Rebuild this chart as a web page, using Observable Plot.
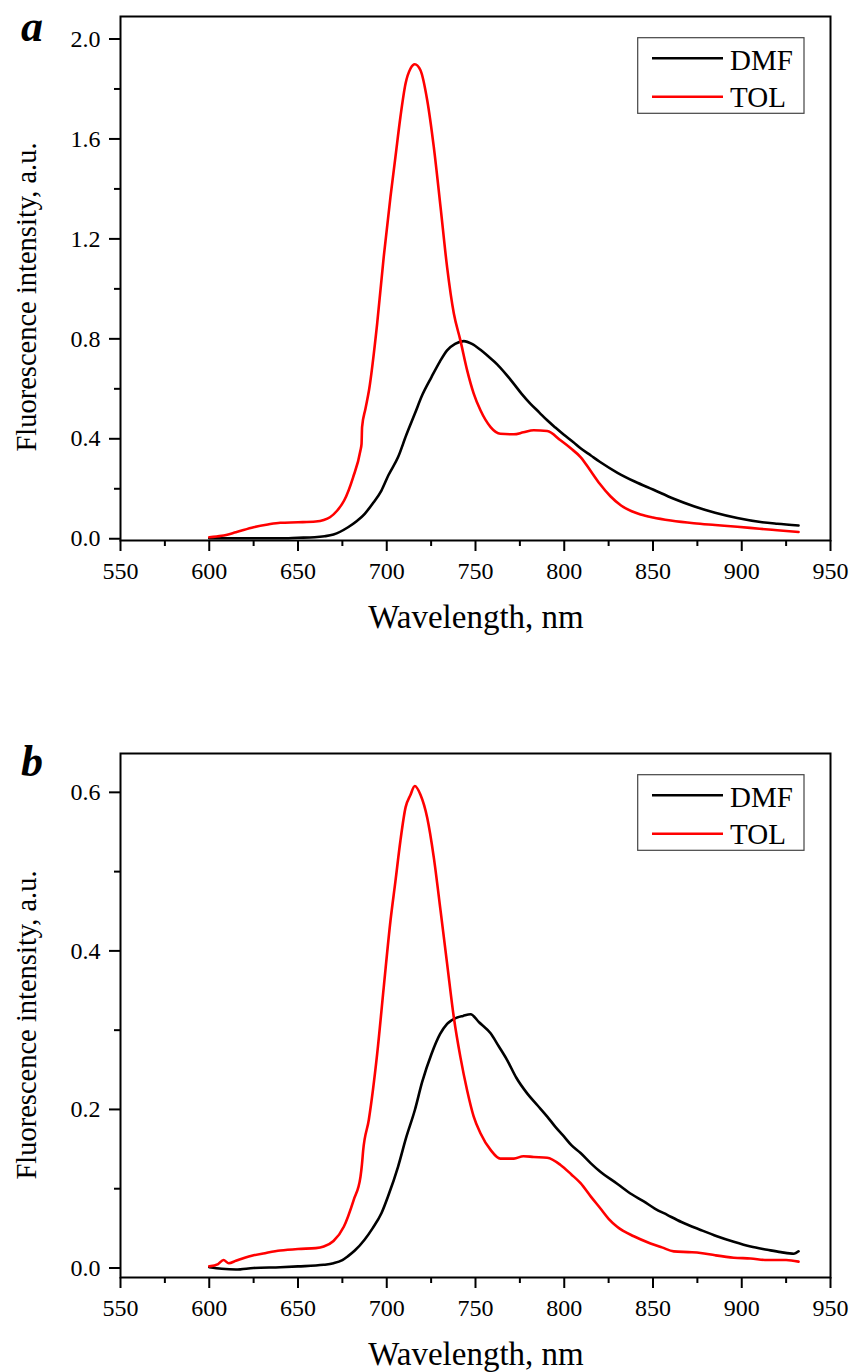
<!DOCTYPE html>
<html><head><meta charset="utf-8">
<script src="https://cdn.jsdelivr.net/npm/d3@7"></script>
<script src="https://cdn.jsdelivr.net/npm/@observablehq/plot@0.6"></script>
<style>
body{margin:0;background:#fff;}
#wrap{position:relative;width:855px;height:1372px;overflow:hidden;}
.panel{position:absolute;left:0;width:855px;height:660px;}
.panel svg{position:absolute;left:0;top:0;}
</style>
</head><body>
<div id="wrap">
  <div class="panel" id="pa" style="top:0px"></div>
  <div class="panel" id="pb" style="top:737px"></div>
</div>
<script>
// ---------- data ----------
const seriesNames = ["DMF", "TOL"];
const seriesColors = ["#000000", "#ff0000"];
const xTicks = [550, 600, 650, 700, 750, 800, 850, 900, 950];
const xMinor = [575, 625, 675, 725, 775, 825, 875, 925];
const yTicksA = [0.0, 0.4, 0.8, 1.2, 1.6, 2.0];
const yMinorA = [0.2, 0.6, 1.0, 1.4, 1.8];
const yTicksB = [0.0, 0.2, 0.4, 0.6];
const yMinorB = [0.1, 0.3, 0.5];
const xLabel = "Wavelength, nm";
const yLabel = "Fluorescence intensity, a.u.";

// panel a, DMF
const wlA_DMF = [600,620,640,650,659.4,665,670,678.2,683,687.6,692,697,701,706.4,711,715.8,720,725.2,730,734,738.5,743.4,748,752.8,757,762.2,767,771.6,776,781,786,790.4,795,799.8,805,809.2,815,820,830,840,850,861.7,873,885,897.5,910.6,920,932];
const vA_DMF  = [0.002,0.002,0.002,0.004,0.006,0.010,0.017,0.046,0.070,0.100,0.140,0.193,0.255,0.327,0.415,0.500,0.575,0.647,0.710,0.754,0.780,0.791,0.780,0.756,0.731,0.698,0.660,0.620,0.580,0.540,0.505,0.474,0.445,0.416,0.387,0.362,0.333,0.308,0.264,0.228,0.197,0.160,0.130,0.104,0.083,0.067,0.060,0.053];
// panel a, TOL
const wlA_TOL = [600,607,615,625,633,640,650,660,664.5,668,672,676,681,685.2,685.8,686.1,688,690,694.6,698.3,702.1,704.9,707.7,710.6,713.4,715.8,719,722.8,726.5,730.3,734,737.8,741.5,745.3,749,752.8,758.5,764,771.6,777,782.8,790.4,797.9,804,809.2,815,820,826,832,838,843,850,860,873,885,897.5,910,920,932];
const vA_TOL  = [0.006,0.012,0.026,0.046,0.057,0.064,0.066,0.069,0.075,0.086,0.112,0.153,0.245,0.354,0.380,0.447,0.520,0.594,0.861,1.128,1.368,1.528,1.688,1.822,1.882,1.899,1.875,1.755,1.568,1.328,1.087,0.901,0.794,0.674,0.581,0.514,0.447,0.420,0.418,0.426,0.434,0.431,0.394,0.360,0.327,0.270,0.220,0.170,0.133,0.110,0.097,0.085,0.073,0.062,0.055,0.048,0.040,0.034,0.027];
// panel b, DMF
const wlB_DMF = [600,607,615,625,640,650,664.5,670,675,678.2,682,687.6,692,697,701,706.4,711,715.8,720,725.2,730,734,739.7,743,747.2,752,758.5,763,767.9,773,779.2,785,790.4,795,799.8,804,809.2,815,820,830,838,844.8,851,858,866,876.8,886,895.5,905,914.4,922,929.4,932];
const vB_DMF  = [0.001,-0.001,-0.002,0.000,0.001,0.002,0.004,0.006,0.010,0.015,0.022,0.036,0.050,0.069,0.092,0.128,0.165,0.199,0.235,0.270,0.295,0.308,0.316,0.318,0.320,0.310,0.296,0.280,0.262,0.240,0.220,0.205,0.191,0.178,0.166,0.155,0.145,0.132,0.122,0.106,0.093,0.084,0.075,0.067,0.058,0.048,0.040,0.033,0.027,0.023,0.020,0.018,0.021];
// panel b, TOL
const wlB_TOL = [600,605,608,611,615,620,625,632,640,650,660,664.5,670,675.8,681.4,685.2,686,686.7,689.9,694.6,698.3,702.1,704.9,707.7,710.6,713.4,715.8,719,722.8,726.5,730.3,734,737.8,741.5,745.3,749,752.8,758.5,764,771.6,777,782.8,790.4,797.9,804,809.2,815,820.4,825,829.8,839.2,848.6,855,861.7,870,876.8,885,895.5,905,914.4,925,932];
const vB_TOL  = [0.002,0.005,0.010,0.006,0.009,0.013,0.016,0.019,0.022,0.024,0.025,0.027,0.034,0.052,0.086,0.115,0.130,0.148,0.187,0.270,0.354,0.438,0.488,0.539,0.581,0.597,0.608,0.597,0.568,0.518,0.451,0.384,0.316,0.266,0.224,0.191,0.170,0.149,0.138,0.138,0.141,0.140,0.139,0.130,0.118,0.107,0.090,0.075,0.062,0.052,0.040,0.031,0.026,0.021,0.020,0.019,0.016,0.013,0.012,0.010,0.010,0.008];

const FONT = "Liberation Serif, Times New Roman, serif";
const toRows = (wl, v, s) => wl.map((w, i) => ({wl: w, v: v[i], s}));

function makePanel(el, opts) {
  const {yDomain, yTicks, yMinor, dmf, tol, letter, letterY, yLabelY} = opts;
  const W = 855, H = 660;
  const chart = Plot.plot({
    width: W, height: H,
    marginLeft: 120, marginRight: 25, marginTop: 16, marginBottom: H - 540,
    style: "font-family: 'Liberation Serif', 'Times New Roman', serif; background: transparent; color: #000; overflow: visible;",
    x: {domain: [550, 950]},
    y: {domain: yDomain},
    marks: [
      Plot.axisX({ticks: xTicks, tickSize: 11, tickPadding: 10, fontSize: 24, fontFamily: "Liberation Serif", strokeWidth: 2, label: null, tickFormat: d3.format("d")}),
      Plot.axisX({ticks: xMinor, tickSize: 6, strokeWidth: 2, label: null, tickFormat: () => ""}),
      Plot.axisY({ticks: yTicks, tickSize: 11, tickPadding: 9, fontSize: 24, fontFamily: "Liberation Serif", strokeWidth: 2, label: null, tickFormat: d3.format(".1f")}),
      Plot.axisY({ticks: yMinor, tickSize: 6, strokeWidth: 2, label: null, tickFormat: () => ""}),
      Plot.line(dmf, {x: "wl", y: "v", stroke: seriesColors[0], strokeWidth: 2.6, curve: "monotone-x"}),
      Plot.line(tol, {x: "wl", y: "v", stroke: seriesColors[1], strokeWidth: 2.6, curve: "monotone-x"}),
      Plot.frame({stroke: "#000", strokeWidth: 2})
    ]
  });
  el.appendChild(chart);

  // overlay: panel letter, axis titles, legend
  const ns = "http://www.w3.org/2000/svg";
  const svg = document.createElementNS(ns, "svg");
  svg.setAttribute("width", W); svg.setAttribute("height", H);
  svg.setAttribute("font-family", FONT);
  const add = (tag, attrs, text) => {
    const e = document.createElementNS(ns, tag);
    for (const k in attrs) e.setAttribute(k, attrs[k]);
    if (text != null) e.textContent = text;
    svg.appendChild(e); return e;
  };
  add("text", {x: 21, y: letterY, "font-size": 44, "font-weight": "bold", "font-style": "italic"}, letter);
  add("text", {transform: `translate(36,${yLabelY}) rotate(-90)`, "text-anchor": "middle", "font-size": 28.5}, yLabel);
  add("text", {x: 476, y: 628, "text-anchor": "middle", "font-size": 33}, xLabel);
  add("rect", {x: 637.7, y: 37.7, width: 166.3, height: 75.6, fill: "#fff", stroke: "#444", "stroke-width": 1.2});
  const ly = [58.3, 96.7], ty = [70, 107.3];
  seriesNames.forEach((n, i) => {
    add("line", {x1: 652, x2: 723, y1: ly[i], y2: ly[i], stroke: seriesColors[i], "stroke-width": 2.6});
    add("text", {x: 730, y: ty[i], "font-size": 29}, n);
  });
  el.appendChild(svg);
}

makePanel(document.getElementById("pa"), {
  yDomain: [-0.007, 2.09], yTicks: yTicksA, yMinor: yMinorA,
  dmf: toRows(wlA_DMF, vA_DMF, "DMF"), tol: toRows(wlA_TOL, vA_TOL, "TOL"),
  letter: "a", letterY: 41, yLabelY: 297
});
makePanel(document.getElementById("pb"), {
  yDomain: [-0.012, 0.649], yTicks: yTicksB, yMinor: yMinorB,
  dmf: toRows(wlB_DMF, vB_DMF, "DMF"), tol: toRows(wlB_TOL, vB_TOL, "TOL"),
  letter: "b", letterY: 39, yLabelY: 288
});
</script>
</body></html>
